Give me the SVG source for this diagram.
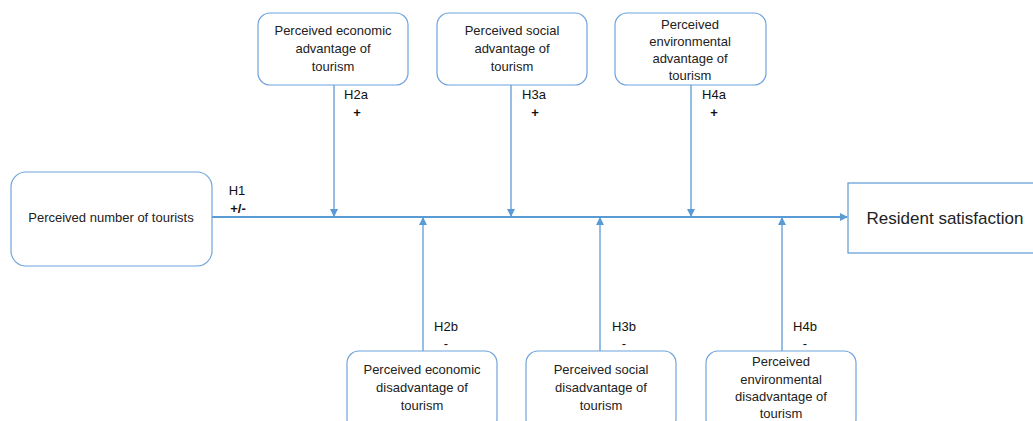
<svg xmlns="http://www.w3.org/2000/svg" width="1033" height="421" viewBox="0 0 1033 421">
<defs>
<style>
.box{fill:#fff;stroke:#6fa3dc;stroke-width:1.2}
.t{font-family:"Liberation Sans",Arial,sans-serif;font-size:13px;fill:#222;text-anchor:middle}
.lbl{font-family:"Liberation Sans",Arial,sans-serif;font-size:13px;fill:#111;text-anchor:middle}
.b{font-weight:bold}
.c{stroke:#5b9bd5;stroke-width:1.3;fill:none}
.main{stroke:#5b9bd5;stroke-width:2;fill:none}
</style>
<marker id="ah" markerWidth="8" markerHeight="8" refX="7" refY="4" orient="auto" markerUnits="userSpaceOnUse">
<path d="M0,0 L8,4 L0,8 Z" fill="#5b9bd5"/>
</marker>
</defs>
<rect width="1033" height="421" fill="#fff"/>
<g id="connectors">
<line class="main" x1="212" y1="217" x2="847" y2="217" marker-end="url(#ah)"/>
<line class="c" x1="334" y1="85" x2="334" y2="216" marker-end="url(#ah)"/>
<line class="c" x1="511" y1="85" x2="511" y2="216" marker-end="url(#ah)"/>
<line class="c" x1="691" y1="85" x2="691" y2="216" marker-end="url(#ah)"/>
<line class="c" x1="423" y1="351" x2="423" y2="218" marker-end="url(#ah)"/>
<line class="c" x1="600" y1="351" x2="600" y2="218" marker-end="url(#ah)"/>
<line class="c" x1="782" y1="351" x2="782" y2="218" marker-end="url(#ah)"/>
<text class="lbl" x="237" y="195">H1</text>
<text class="lbl b" x="238" y="213">+/-</text>
<text class="lbl" x="356" y="99">H2a</text>
<text class="lbl b" x="357" y="117">+</text>
<text class="lbl" x="534" y="99">H3a</text>
<text class="lbl b" x="535" y="117">+</text>
<text class="lbl" x="714" y="99">H4a</text>
<text class="lbl b" x="714" y="117">+</text>
<text class="lbl" x="446" y="331">H2b</text>
<text class="lbl" x="446" y="348">-</text>
<text class="lbl" x="624" y="331">H3b</text>
<text class="lbl" x="624" y="348">-</text>
<text class="lbl" x="805" y="331">H4b</text>
<text class="lbl" x="805" y="348">-</text>
</g>
<g id="n-tourists">
<rect class="box" x="11" y="172" width="201" height="94" rx="15"/>
<text class="t" x="111" y="222">Perceived number of tourists</text>
</g>
<g id="n-satisfaction">
<rect x="848" y="183" width="190" height="70" fill="#fff" stroke="#5b9bd5" stroke-width="1.2"/>
<text class="t" x="945" y="224" style="font-size:17px">Resident satisfaction</text>
</g>
<g id="n-eco-adv">
<rect class="box" x="258" y="13" width="150" height="72" rx="12"/>
<text class="t" x="333" y="35">Perceived economic</text>
<text class="t" x="333" y="53">advantage of</text>
<text class="t" x="333" y="71">tourism</text>
</g>
<g id="n-soc-adv">
<rect class="box" x="437" y="13" width="150" height="72" rx="12"/>
<text class="t" x="512" y="35">Perceived social</text>
<text class="t" x="512" y="53">advantage of</text>
<text class="t" x="512" y="71">tourism</text>
</g>
<g id="n-env-adv">
<rect class="box" x="615" y="13" width="151" height="72" rx="12"/>
<text class="t" x="690" y="29">Perceived</text>
<text class="t" x="690" y="46">environmental</text>
<text class="t" x="690" y="63">advantage of</text>
<text class="t" x="690" y="80">tourism</text>
</g>
<g id="n-eco-dis">
<rect class="box" x="347" y="351" width="150" height="80" rx="12"/>
<text class="t" x="422" y="374">Perceived economic</text>
<text class="t" x="422" y="392">disadvantage of</text>
<text class="t" x="422" y="410">tourism</text>
</g>
<g id="n-soc-dis">
<rect class="box" x="526" y="351" width="150" height="80" rx="12"/>
<text class="t" x="601" y="374">Perceived social</text>
<text class="t" x="601" y="392">disadvantage of</text>
<text class="t" x="601" y="410">tourism</text>
</g>
<g id="n-env-dis">
<rect class="box" x="706" y="351" width="150" height="80" rx="12"/>
<text class="t" x="781" y="366">Perceived</text>
<text class="t" x="781" y="384">environmental</text>
<text class="t" x="781" y="401">disadvantage of</text>
<text class="t" x="781" y="418">tourism</text>
</g>
</svg>
